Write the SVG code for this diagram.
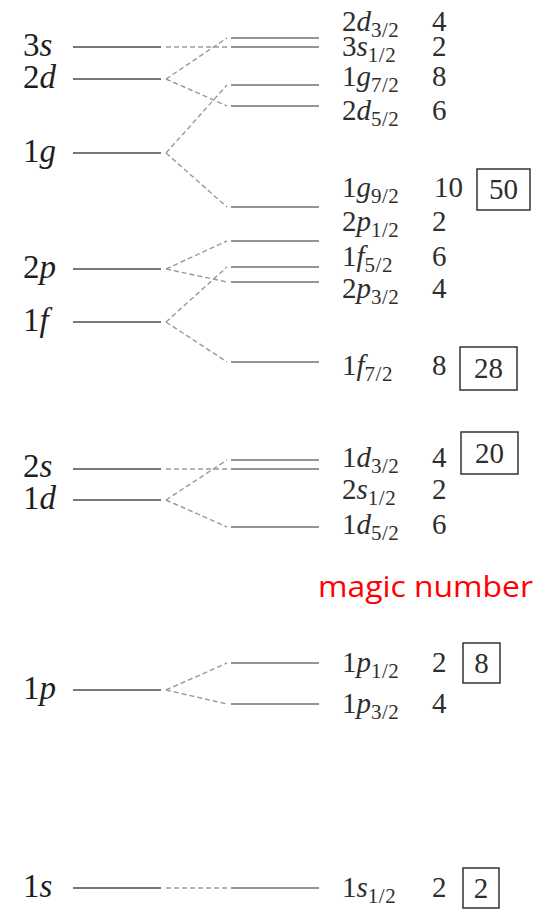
<svg xmlns="http://www.w3.org/2000/svg" width="543" height="912" viewBox="0 0 543 912">
<style>
.bg{fill:#fff}
.ll{stroke:#4a4a4a;stroke-width:1.6;fill:none}
.rl{stroke:#707070;stroke-width:1.6;fill:none}
.dl{stroke:#9a9a9a;stroke-width:1.4;stroke-dasharray:5 3;fill:none}
.L{font-family:'Liberation Serif','DejaVu Serif',serif;font-size:33px;fill:#1e1e1e}
.R{font-family:'Liberation Serif','DejaVu Serif',serif;font-size:29px;fill:#2e2e2e}
.i{font-style:italic}
.s{font-size:21px;letter-spacing:0.5px}
.box{fill:none;stroke:#333;stroke-width:1.5}
.magic{font-family:'Open Sans','Liberation Sans',sans-serif;font-size:30px;fill:#ff0000}
</style>
<rect class="bg" x="0" y="0" width="543" height="912"/>

<g id="connectors">
<line class="dl" x1="166" y1="47" x2="227" y2="47"/>
<line class="dl" x1="166" y1="79" x2="227" y2="38"/>
<line class="dl" x1="166" y1="79" x2="227" y2="106"/>
<line class="dl" x1="166" y1="153" x2="227" y2="85"/>
<line class="dl" x1="166" y1="153" x2="227" y2="207"/>
<line class="dl" x1="166" y1="269" x2="227" y2="241"/>
<line class="dl" x1="166" y1="269" x2="227" y2="282"/>
<line class="dl" x1="166" y1="322" x2="227" y2="267"/>
<line class="dl" x1="166" y1="322" x2="227" y2="362"/>
<line class="dl" x1="166" y1="469" x2="227" y2="469"/>
<line class="dl" x1="166" y1="500" x2="227" y2="460"/>
<line class="dl" x1="166" y1="500" x2="227" y2="527"/>
<line class="dl" x1="166" y1="690" x2="227" y2="663"/>
<line class="dl" x1="166" y1="690" x2="227" y2="704"/>
<line class="dl" x1="166" y1="888" x2="227" y2="888"/>
</g>

<g id="left-3s"><line class="ll" x1="73" y1="47" x2="161" y2="47"/><text class="L" x="23" y="56">3<tspan class="i">s</tspan></text></g>
<g id="left-2d"><line class="ll" x1="73" y1="79" x2="161" y2="79"/><text class="L" x="23" y="88">2<tspan class="i">d</tspan></text></g>
<g id="left-1g"><line class="ll" x1="73" y1="153" x2="161" y2="153"/><text class="L" x="23" y="162">1<tspan class="i">g</tspan></text></g>
<g id="left-2p"><line class="ll" x1="73" y1="269" x2="161" y2="269"/><text class="L" x="23" y="278">2<tspan class="i">p</tspan></text></g>
<g id="left-1f"><line class="ll" x1="73" y1="322" x2="161" y2="322"/><text class="L" x="23" y="331">1<tspan class="i">f</tspan></text></g>
<g id="left-2s"><line class="ll" x1="73" y1="469" x2="161" y2="469"/><text class="L" x="23" y="477">2<tspan class="i">s</tspan></text></g>
<g id="left-1d"><line class="ll" x1="73" y1="500" x2="161" y2="500"/><text class="L" x="23" y="509">1<tspan class="i">d</tspan></text></g>
<g id="left-1p"><line class="ll" x1="73" y1="690" x2="161" y2="690"/><text class="L" x="23" y="699">1<tspan class="i">p</tspan></text></g>
<g id="left-1s"><line class="ll" x1="73" y1="888" x2="161" y2="888"/><text class="L" x="23" y="897">1<tspan class="i">s</tspan></text></g>

<g id="r-2d32"><line class="rl" x1="231" y1="38" x2="319" y2="38"/><text class="R" x="342" y="31">2<tspan class="i">d</tspan><tspan class="s" dy="6">3/2</tspan></text><text class="R" x="432" y="31">4</text></g>
<g id="r-3s12"><line class="rl" x1="231" y1="47" x2="319" y2="47"/><text class="R" x="342" y="56">3<tspan class="i">s</tspan><tspan class="s" dy="6">1/2</tspan></text><text class="R" x="432" y="56">2</text></g>
<g id="r-1g72"><line class="rl" x1="231" y1="85" x2="319" y2="85"/><text class="R" x="342" y="86">1<tspan class="i">g</tspan><tspan class="s" dy="6">7/2</tspan></text><text class="R" x="432" y="86">8</text></g>
<g id="r-2d52"><line class="rl" x1="231" y1="106" x2="319" y2="106"/><text class="R" x="342" y="120">2<tspan class="i">d</tspan><tspan class="s" dy="6">5/2</tspan></text><text class="R" x="432" y="120">6</text></g>
<g id="r-1g92"><line class="rl" x1="231" y1="207" x2="319" y2="207"/><text class="R" x="342" y="197">1<tspan class="i">g</tspan><tspan class="s" dy="6">9/2</tspan></text><text class="R" x="434" y="197">10</text><rect class="box" x="477" y="169" width="53" height="41"/><text class="R" x="503.5" y="199" text-anchor="middle">50</text></g>
<g id="r-2p12"><line class="rl" x1="231" y1="241" x2="319" y2="241"/><text class="R" x="342" y="231">2<tspan class="i">p</tspan><tspan class="s" dy="6">1/2</tspan></text><text class="R" x="432" y="231">2</text></g>
<g id="r-1f52"><line class="rl" x1="231" y1="267" x2="319" y2="267"/><text class="R" x="342" y="266">1<tspan class="i">f</tspan><tspan class="s" dy="6">5/2</tspan></text><text class="R" x="432" y="266">6</text></g>
<g id="r-2p32"><line class="rl" x1="231" y1="282" x2="319" y2="282"/><text class="R" x="342" y="298">2<tspan class="i">p</tspan><tspan class="s" dy="6">3/2</tspan></text><text class="R" x="432" y="298">4</text></g>
<g id="r-1f72"><line class="rl" x1="231" y1="362" x2="319" y2="362"/><text class="R" x="342" y="375">1<tspan class="i">f</tspan><tspan class="s" dy="6">7/2</tspan></text><text class="R" x="432" y="375">8</text><rect class="box" x="460" y="347" width="57" height="43"/><text class="R" x="488.5" y="378" text-anchor="middle">28</text></g>
<g id="r-1d32"><line class="rl" x1="231" y1="460" x2="319" y2="460"/><text class="R" x="342" y="467">1<tspan class="i">d</tspan><tspan class="s" dy="6">3/2</tspan></text><text class="R" x="432" y="467">4</text><rect class="box" x="461" y="432" width="57" height="42"/><text class="R" x="489.5" y="463" text-anchor="middle">20</text></g>
<g id="r-2s12"><line class="rl" x1="231" y1="469" x2="319" y2="469"/><text class="R" x="342" y="499">2<tspan class="i">s</tspan><tspan class="s" dy="6">1/2</tspan></text><text class="R" x="432" y="499">2</text></g>
<g id="r-1d52"><line class="rl" x1="231" y1="527" x2="319" y2="527"/><text class="R" x="342" y="534">1<tspan class="i">d</tspan><tspan class="s" dy="6">5/2</tspan></text><text class="R" x="432" y="534">6</text></g>
<g id="r-1p12"><line class="rl" x1="231" y1="663" x2="319" y2="663"/><text class="R" x="342" y="672">1<tspan class="i">p</tspan><tspan class="s" dy="6">1/2</tspan></text><text class="R" x="432" y="672">2</text><rect class="box" x="463" y="643" width="37" height="40"/><text class="R" x="481.5" y="673" text-anchor="middle">8</text></g>
<g id="r-1p32"><line class="rl" x1="231" y1="704" x2="319" y2="704"/><text class="R" x="342" y="713">1<tspan class="i">p</tspan><tspan class="s" dy="6">3/2</tspan></text><text class="R" x="432" y="713">4</text></g>
<g id="r-1s12"><line class="rl" x1="231" y1="888" x2="319" y2="888"/><text class="R" x="342" y="897">1<tspan class="i">s</tspan><tspan class="s" dy="6">1/2</tspan></text><text class="R" x="432" y="897">2</text><rect class="box" x="463" y="868" width="36" height="40"/><text class="R" x="481" y="898" text-anchor="middle">2</text></g>

<g id="magic-label"><text class="magic" x="318" y="597" textLength="215" lengthAdjust="spacingAndGlyphs">magic number</text></g>
</svg>
